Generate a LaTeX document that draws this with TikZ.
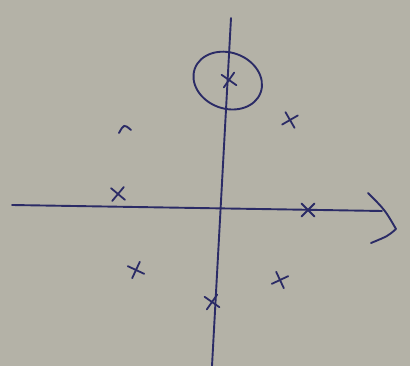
\documentclass[tikz,border=0pt]{standalone}
\usetikzlibrary{shapes.misc}
\definecolor{PaperGrey}{HTML}{B4B2A7}
\definecolor{InkBlue}{HTML}{2B2B66}

\begin{document}
\begin{tikzpicture}[x=1pt,y=-1pt,line cap=round,line join=round,color=InkBlue,
  ink/.style={line width=1.9pt},
  pole/.style={cross out,draw=InkBlue,line width=1.8pt,minimum size=11pt,inner sep=0pt}]
  \fill[PaperGrey] (0,0) rectangle (410,366);
  \useasboundingbox (0,0) rectangle (410,366);
  % axes
  \coordinate (xl) at (12,205);
  \coordinate (xr) at (382,211);
  \coordinate (yt) at (231,18);
  \coordinate (yb) at (212,366);
  \draw[ink] (xl) -- (xr);
  \draw[ink] (yt) -- (yb);
  \draw[ink] (368,193) .. controls (385,210) .. (396,229) .. controls (388,236) .. (371,243);
  % poles
  \node[pole,rotate=10] (p1) at (229,80) {};
  \node[pole,rotate=-15] (p2) at (290,120) {};
  \node[pole,rotate=5] (p3) at (118,194) {};
  \node[pole,rotate=0] (p4) at (308,210) {};
  \node[pole,rotate=20] (p5) at (136,270) {};
  \node[pole,rotate=-20] (p6) at (280,280) {};
  \node[pole,rotate=10] (p7) at (212,302) {};
  \draw[ink] (119,133) .. controls (124,124) .. (131,130);
  % circled pole
  \draw[ink,rotate around={-20:(p1)}] (228,81) ellipse [x radius=35,y radius=28];
\end{tikzpicture}
\end{document}
